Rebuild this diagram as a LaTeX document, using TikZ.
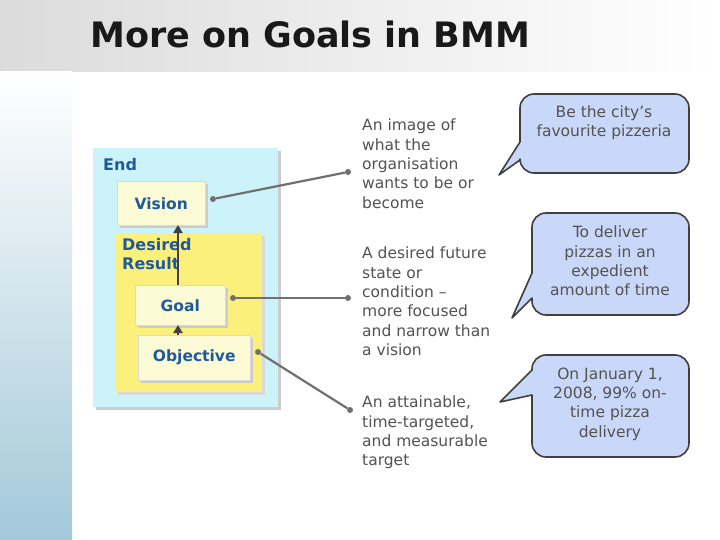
\documentclass[tikz,border=0pt]{standalone}
\usepackage{fontspec}
\setmainfont{DejaVu Sans}
\usetikzlibrary{arrows.meta}
\definecolor{callfill}{HTML}{C9D8F8}
\definecolor{darkline}{HTML}{404040}
\definecolor{conn}{HTML}{707070}
\definecolor{endfill}{HTML}{CCF3FA}
\definecolor{drfill}{HTML}{FCF07C}
\definecolor{boxfill}{HTML}{FDFAD6}
\definecolor{bmmblue}{HTML}{1F5A9A}
\tikzset{
  desc/.style={anchor=north west, align=left, inner sep=0pt, font=\fontsize{15.5}{19.3}\selectfont, text=darkline!90},
  callout/.style={fill=callfill, draw=darkline, line width=1.6pt, line join=round},
  calltext/.style={align=center, inner sep=0pt, font=\fontsize{15.5}{19.3}\selectfont, text=darkline!90},
  inbox/.style={fill=boxfill, draw=white!85!black, line width=0.5pt, font=\bfseries\fontsize{15.5}{17}\selectfont, text=bmmblue},
  conline/.style={draw=conn, line width=2.2pt},
  dot/.style={circle, fill=conn, inner sep=0pt, minimum size=6pt},
  uparrow/.style={draw=darkline, line width=2.4pt, -{Triangle[length=8pt,width=9pt]}}
}
\begin{document}
\begin{tikzpicture}[x=1pt,y=-1pt]
\useasboundingbox (0,0) rectangle (720,540);
\fill[white] (0,0) rectangle (720,540);
% backgrounds
\shade[left color=black!14, right color=white] (0,0) rectangle (720,72);
\shade[top color=white, bottom color=blue!30!cyan!25!white!85!black] (0,72) rectangle (72,540);
\node[anchor=base west, inner sep=0pt, font=\bfseries\fontsize{35}{38}\selectfont, text=black!90] (title) at (90,48) {More on Goals in BMM};
% diagram
\fill[black!20] (96,151) rectangle (281,410);
\node[draw=none, fill=endfill, minimum width=185pt, minimum height=259pt, anchor=north west, inner sep=0pt] (endbox) at (93,148) {};
\node[anchor=north west, inner sep=0pt, font=\bfseries\fontsize{16}{17}\selectfont, text=bmmblue] (endlbl) at (103,158) {End};
\fill[black!15] (118,236) rectangle (265,395);
\node[fill=drfill, minimum width=147pt, minimum height=159pt, anchor=north west, inner sep=0pt] (drbox) at (115,233) {};
\node[anchor=north west, inner sep=0pt, align=left, font=\bfseries\fontsize{16}{19}\selectfont, text=bmmblue] (drlbl) at (122,238) {Desired\\Result};
\fill[black!20] (120,184) rectangle (208,228);
\fill[black!20] (138,288) rectangle (228,328);
\fill[black!20] (141,338) rectangle (253,383);
\node[inbox, minimum width=88pt, minimum height=44pt, anchor=north west, inner sep=0pt] (vision) at (117,181) {Vision};
\node[inbox, minimum width=90pt, minimum height=40pt, anchor=north west, inner sep=0pt] (goal) at (135,285) {Goal};
\node[inbox, minimum width=112pt, minimum height=45pt, anchor=north west, inner sep=0pt] (objective) at (138,335) {Objective};
\coordinate (ot) at (178,335); \coordinate (gb) at (178,325);
\coordinate (gt) at (178,285); \coordinate (vb) at (178,225);
\draw[uparrow] (ot) -- (gb);
\draw[uparrow] (gt) -- (vb);
% descriptions
\node[desc] (d1) at (362,119) {An image of\\what the\\organisation\\wants to be or\\become};
\node[desc] (d2) at (362,247) {A desired future\\state or\\condition –\\more focused\\and narrow than\\a vision};
\node[desc] (d3) at (362,396) {An attainable,\\time-targeted,\\and measurable\\target};
% connectors
\node[dot] (v1) at (213,199) {}; \node[dot] (v2) at (348,172) {};
\node[dot] (g1) at (233,298) {}; \node[dot] (g2) at (348,298) {};
\node[dot] (o1) at (258,352) {}; \node[dot] (o2) at (350,410) {};
\draw[conline] (v1) -- (v2);
\draw[conline] (g1) -- (g2);
\draw[conline] (o1) -- (o2);
% callouts
\draw[callout] (534,94) -- (675,94) arc(-90:0:14) -- (689,159) arc(0:90:14) -- (534,173) arc(90:180:14) -- (520,160) -- (499,175) -- (520,142) -- (520,108) arc(180:270:14) -- cycle;
\node[calltext] (c1) at (604,123) {Be the city’s\\favourite pizzeria};
\draw[callout] (546,213) -- (675,213) arc(-90:0:14) -- (689,301) arc(0:90:14) -- (546,315) arc(90:180:14) -- (532,298) -- (512,318) -- (532,273) -- (532,227) arc(180:270:14) -- cycle;
\node[calltext] (c2) at (610,261) {To deliver\\pizzas in an\\expedient\\amount of time};
\draw[callout] (546,355) -- (675,355) arc(-90:0:14) -- (689,443) arc(0:90:14) -- (546,457) arc(90:180:14) -- (532,395) -- (500,402) -- (532,370) -- (532,369) arc(180:270:14) -- cycle;
\node[calltext] (c3) at (610,404) {On January 1,\\2008, 99\% on-\\time pizza\\delivery};
\end{tikzpicture}
\end{document}
